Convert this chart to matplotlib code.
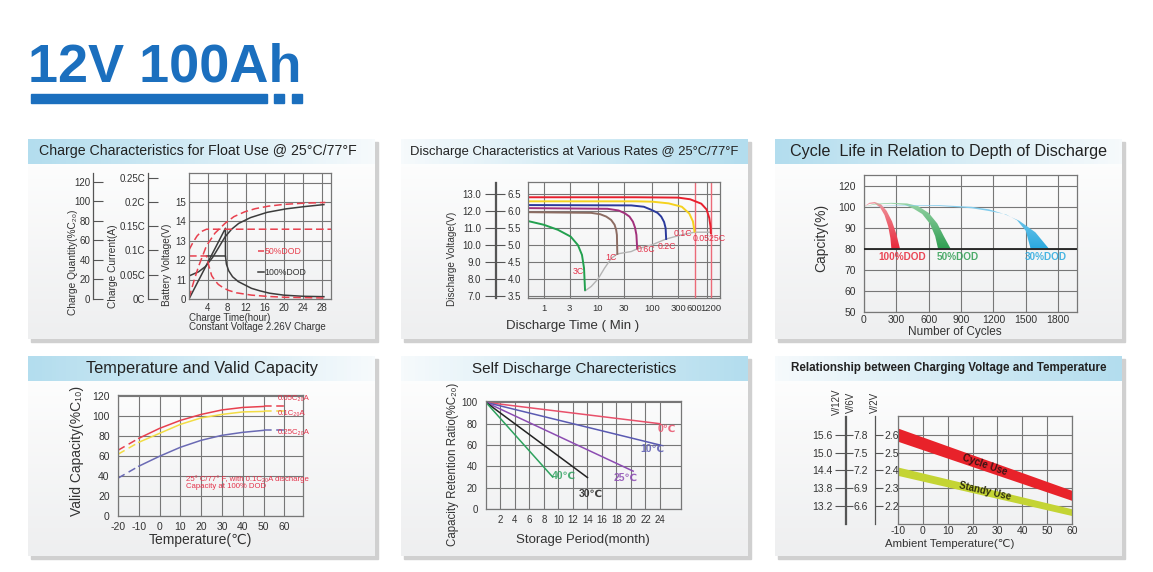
import numpy as np
import matplotlib
matplotlib.use("Agg")
import matplotlib.pyplot as plt
from matplotlib.colors import LinearSegmentedColormap
from matplotlib.patches import Rectangle

plt.rcParams['font.family'] = ['Liberation Sans', 'DejaVu Sans']
plt.rcParams['axes.linewidth'] = 0.9

W, H = 1153, 572
GRID = '#777777'
TXT = '#333333'
LRED = '#e4324a'

# ---------------- data ----------------
# 1) charge characteristics (x: hours, y: battery voltage scale)
v100_t = [0, 2, 3.5, 5, 6.5, 7.6, 9, 10.5, 13, 16.5, 20.5, 24.5, 28.5]
v100_v = [11.19, 11.4, 11.68, 12.15, 12.75, 13.2, 13.6, 13.9, 14.2, 14.47, 14.65, 14.77, 14.87]
q100_t = [0, 7.7, 7.7]
q100_v = [10, 13.65, 12.22]
i100_t = [3.7, 7.7, 7.9, 8.4, 9.2, 10.4, 12, 13.2, 15, 17, 20, 24, 28.5]
i100_v = [12.22, 12.22, 11.8, 11.45, 11.15, 10.9, 10.7, 10.55, 10.42, 10.3, 10.2, 10.14, 10.12]
v50_t = [0, 0.8, 1.7, 2.6, 3.7, 30]
v50_v = [12.53, 12.9, 13.25, 13.48, 13.6, 13.6]
i50_t = [0, 3.7, 4.2, 4.8, 5.5, 6.2, 7.3, 8.3, 10, 13.2, 16.8, 20.3, 28.4]
i50_v = [12.22, 12.22, 11.7, 11.2, 10.95, 10.75, 10.57, 10.45, 10.32, 10.2, 10.13, 10.09, 10.05]
q50_t = [0, 1, 2, 3.7, 5.5, 7.6, 9.5, 11.8, 14, 16.8, 20, 24, 28.8]
q50_v = [10.05, 10.9, 11.67, 12.75, 13.4, 13.9, 14.25, 14.5, 14.66, 14.79, 14.88, 14.94, 14.98]
qty_ticks = [0, 20, 40, 60, 80, 100, 120]
cur_ticks = [0, 0.05, 0.1, 0.15, 0.2, 0.25]
cur_labels = ['0C', '0.05C', '0.1C', '0.15C', '0.2C', '0.25C']
bv_ticks = [10, 11, 12, 13, 14, 15, 16]
bv_labels = ['0', '11', '12', '13', '14', '15', '']
ct_ticks = [4, 8, 12, 16, 20, 24, 28]

# 2) discharge at various rates (x: minutes, y: 6V scale)
dis_rates = ['0.0525C', '0.1C', '0.2C', '0.6C', '1C', '3C']
dis_colors = ['#e8202e', '#f5d21e', '#2b3a9c', '#a2317c', '#8c6c62', '#22a04e']
dis_t = [
    [0.51, 50, 300, 500, 800, 1000, 1120, 1180, 1200],
    [0.51, 50, 100, 200, 350, 480, 560, 600],
    [0.51, 41, 70, 96, 125, 146, 165, 176, 180],
    [0.51, 15, 24, 31, 38, 44, 48, 51, 52.7],
    [0.51, 7.5, 11, 14.2, 17.5, 20.2, 21.6, 22.3, 22.7],
    [0.51, 1, 1.83, 3.14, 4.27, 5.07, 5.53, 5.77],
]
dis_v = [
    [6.41, 6.41, 6.40, 6.35, 6.22, 6.05, 5.8, 5.55, 5.35],
    [6.29, 6.29, 6.28, 6.23, 6.13, 5.93, 5.7, 5.4],
    [6.18, 6.17, 6.13, 6.04, 5.95, 5.84, 5.68, 5.5, 5.18],
    [6.09, 6.07, 6.02, 5.94, 5.84, 5.69, 5.52, 5.3, 4.9],
    [5.97, 5.95, 5.91, 5.84, 5.74, 5.6, 5.45, 5.3, 4.74],
    [5.71, 5.6, 5.45, 5.25, 5.0, 4.71, 4.32, 3.68],
]
end_t = [5.77, 7.5, 10, 13.2, 17.6, 22.7, 41, 52.7, 96, 180, 343, 600, 1200]
end_v = [3.65, 3.78, 4.0, 4.32, 4.61, 4.74, 4.81, 4.89, 5.0, 5.18, 5.3, 5.38, 5.38]
rate_lbl_t = [1130, 365, 188, 77, 17.6, 4.27]
rate_lbl_v = [5.18, 5.35, 4.96, 4.88, 4.63, 4.22]
dt_ticks = [1, 3, 10, 30, 100, 300, 600, 1200]
dv6_ticks = [3.5, 4.0, 4.5, 5.0, 5.5, 6.0, 6.5]
dv12_labels = ['7.0', '8.0', '9.0', '10.0', '11.0', '12.0', '13.0']

# 3) cycle life vs depth of discharge
dod_names = ['100%DOD', '50%DOD', '30%DOD']
dod_dark = ['#e8283a', '#2f9e52', '#2aa9de']
dod_light = ['#f09aa2', '#9cd6aa', '#94d4f0']
dod_out_x = [[0, 50, 100, 160, 210, 260, 300, 334],
             [0, 100, 250, 400, 500, 600, 680, 740, 804],
             [0, 300, 700, 1000, 1160, 1300, 1440, 1590, 1716]]
dod_out_y = [[100, 101.8, 102.2, 101, 98, 93, 87, 80],
             [100, 101.3, 101.8, 101.5, 100.3, 97, 92, 86, 80],
             [100, 100.6, 100.7, 99.9, 98.7, 96.5, 93.3, 87.8, 80]]
dod_in_x = [[0, 50, 100, 150, 190, 225, 245, 254],
            [0, 100, 250, 380, 460, 540, 610, 660, 687],
            [0, 300, 700, 1000, 1150, 1314, 1420, 1500, 1546]]
dod_in_y = [[100, 101.3, 101.5, 99.5, 96, 90.5, 85, 80],
            [100, 101, 101.4, 100.8, 99, 96.5, 92, 86, 80],
            [100, 100.4, 100.3, 99.2, 98, 96.4, 93.5, 88.6, 80]]
dod_lbl_x = [356, 866, 1686]
cyc_xticks = [0, 300, 600, 900, 1200, 1500, 1800]
# the top gridline is labelled 120 on the original scale
cyc_yticks = [50, 60, 70, 80, 90, 100, 110]
cyc_ylabels = ['50', '60', '70', '80', '90', '100', '120']

# 4) temperature and valid capacity
temp_x = [-20, -10, 0, 10, 20, 30, 40, 50, 60]
cap_005 = [66, 78, 88, 96, 102, 106.5, 109, 110, 110]
cap_01 = [62, 74, 83, 92, 98.5, 102, 104.5, 105, 105]
cap_025 = [38, 50, 60, 69, 76, 81, 84, 86, 86]
cap_names = ['0.05C₂₀A', '0.1C₂₀A', '0.25C₂₀A']
cap_lbl_y = [117.8, 102.7, 83.6]
cap_colors = ['#e8404e', '#f2dc44', '#6a6ab4']
tmp_xticks = [-20, -10, 0, 10, 20, 30, 40, 50, 60]
tmp_xlabels = ['-20', '-10', '0', '10', '20', '30', '40', '50', '60']
cap_yticks = [0, 20, 40, 60, 80, 100, 120]

# 5) self discharge
sd_names = ['0℃', '10℃', '25℃', '30℃', '40℃']
sd_colors = ['#e8506a', '#5a5ab2', '#8c4cb2', '#222222', '#2ea25e']
sd_end_m = [24, 24, 20.3, 14, 9.2]
sd_end_v = [80, 60, 35.5, 29.5, 30]
sd_lbl_m = [24.9, 23, 19.3, 14.5, 10.8]
sd_lbl_v = [75.6, 56.6, 29.6, 14.6, 31.2]
sd_xticks = [2, 4, 6, 8, 10, 12, 14, 16, 18, 20, 22, 24]
sd_yticks = [0, 20, 40, 60, 80, 100]

# 6) charging voltage vs temperature (V per cell)
amb_x = [-10, 60]
cyc_hi = [2.637, 2.288]
cyc_lo = [2.563, 2.232]
sby_hi = [2.419, 2.185]
sby_lo = [2.372, 2.147]
amb_ticks = [-10, 0, 10, 20, 30, 40, 50, 60]
amb_labels = ['-10', '0', '10', '20', '30', '40', '50', '60']
v2_ticks = [2.2, 2.3, 2.4, 2.5, 2.6]
v2_labels = ['2.2', '2.3', '2.4', '2.5', '2.6']
v6_labels = ['6.6', '6.9', '7.2', '7.5', '7.8']
v12_labels = ['13.2', '13.8', '14.4', '15.0', '15.6']

# ---------------- figure ----------------
fig = plt.figure(figsize=(W / 100, H / 100), dpi=100)


def px(x0, y0, x1, y1):
    return [x0 / W, 1 - y1 / H, (x1 - x0) / W, (y1 - y0) / H]


bg = fig.add_axes([0, 0, 1, 1])
bg.axis('off')

bg.text(28, 82, '12V 100Ah', fontsize=39, fontweight='bold', color='#1b6fbe',
        ha='left', va='baseline')
bg.add_patch(Rectangle((31, 94), 236, 8.5, color='#1b6fbe'))
bg.add_patch(Rectangle((274, 94), 9.5, 8.5, color='#1b6fbe'))
bg.add_patch(Rectangle((292, 94), 9.5, 8.5, color='#1b6fbe'))

hdr_cm = LinearSegmentedColormap.from_list('hdr', ['#b3ddee', '#f6fafc'])
body_cm = LinearSegmentedColormap.from_list('body', ['#ffffff', '#eeeff0'])


def panel(x0, y0, x1, y1, title, blue_left, fs, dx=0, **kw):
    bg.add_patch(Rectangle((x0 + 3, y0 + 3), x1 - x0, y1 - y0, color='#d0d0d0', zorder=1))
    bg.imshow(np.linspace(0, 1, 50).reshape(-1, 1), extent=[x0, x1, y1, y0],
              cmap=body_cm, aspect='auto', zorder=2)
    g = np.linspace(0, 1, 100).reshape(1, -1)
    if not blue_left:
        g = g[:, ::-1]
    bg.imshow(g, extent=[x0, x1, y0 + 25, y0], cmap=hdr_cm, aspect='auto', zorder=3)
    bg.text((x0 + x1) / 2 + dx, y0 + 12.5, title, fontsize=fs, ha='center', va='center',
            color='#222222', zorder=4, **kw)


panel(28, 139, 375, 339, 'Charge Characteristics for Float Use @ 25°C/77°F', True, 10.2, dx=-4)
panel(401, 139, 748, 339, 'Discharge Characteristics at Various Rates @ 25°C/77°F', False, 9.4)
panel(775, 139, 1122, 339, 'Cycle  Life in Relation to Depth of Discharge', True, 11.6)
panel(28, 356, 375, 556, 'Temperature and Valid Capacity', True, 11.8)
panel(401, 356, 748, 556, 'Self Discharge Charecteristics', False, 11)
panel(775, 356, 1122, 556, 'Relationship between Charging Voltage and Temperature', False, 8.4,
      fontweight='bold')
bg.set_xlim(0, W)
bg.set_ylim(H, 0)


def style(ax, fs=7):
    ax.set_facecolor('none')
    ax.grid(True, color=GRID, lw=0.8)
    ax.set_axisbelow(True)
    for s in ax.spines.values():
        s.set_color(GRID)
    ax.tick_params(length=0, labelsize=fs, colors=TXT, pad=2)


def scale(rect, ylim, ticks, labels, side='left', direction='in', length=5, pad=2, fs=7):
    a = fig.add_axes(px(*rect))
    a.set_facecolor('none')
    a.set_xticks([])
    for k, s in a.spines.items():
        s.set_visible(k == side)
        s.set_color('#555555')
    if side == 'right':
        a.yaxis.tick_right()
    a.set_ylim(*ylim)
    a.set_yticks(ticks)
    a.set_yticklabels(labels)
    a.tick_params(axis='y', direction=direction, length=length, pad=pad, labelsize=fs,
                  colors='#555555', labelcolor=TXT)
    return a


# ---- panel 1 ----
a1 = fig.add_axes(px(189, 173, 331, 299))
style(a1)
a1.set_xlim(0, 30)
a1.set_ylim(10, 16.5)
a1.set_xticks(ct_ticks)
a1.set_yticks(bv_ticks)
a1.set_yticklabels(bv_labels)
a1.tick_params(axis='x', pad=3)
blk = dict(color='#3c3c3c', lw=1.1)
rd = dict(color='#e8404e', lw=1.1, ls=(0, (5, 2.5)))
a1.plot(v100_t, v100_v, **blk)
a1.plot(q100_t, q100_v, **blk)
a1.plot(i100_t, i100_v, **blk)
a1.plot(v50_t, v50_v, **rd)
a1.plot(i50_t, i50_v, **rd)
a1.plot(q50_t, q50_v, **rd)
a1.plot([14.6, 15.9], [12.47, 12.47], **rd)
a1.text(16.0, 12.47, '50%DOD', color='#e8404e', fontsize=6.3, va='center')
a1.plot([14.6, 15.9], [11.39, 11.39], **blk)
a1.text(16.0, 11.39, '100%DOD', color='#333333', fontsize=6.3, va='center')
scale((93, 173, 93.5, 299), (0, 129.2), qty_ticks, [str(v) for v in qty_ticks], length=7)
scale((148, 173, 148.5, 299), (0, 0.2597), cur_ticks, cur_labels, length=7)
bg.text(73, 262, 'Charge Quantity(%C₂₀)', rotation=90, fontsize=7.3, ha='center', va='center', color=TXT)
bg.text(113, 266, 'Charge Current(A)', rotation=90, fontsize=7.3, ha='center', va='center', color=TXT)
bg.text(167, 265, 'Battery Voltage(V)', rotation=90, fontsize=7.3, ha='center', va='center', color=TXT)
bg.text(189, 318, 'Charge Time(hour)', fontsize=7, va='center', color=TXT)
bg.text(189, 327.5, 'Constant Voltage 2.26V Charge', fontsize=7, va='center', color=TXT)

# ---- panel 2 ----
a2 = fig.add_axes(px(528, 182, 720, 298))
style(a2, 6.8)
a2.set_xscale('log')
a2.set_xlim(0.514, 1766)
a2.set_ylim(3.44, 6.86)
a2.grid(False)
a2.set_xticks(dt_ticks)
a2.set_xticklabels([str(v) for v in dt_ticks])
a2.minorticks_off()
a2.set_yticks(dv6_ticks)
a2.tick_params(axis='y', labelleft=False)
a2.tick_params(axis='x', pad=4)
for yv in dv6_ticks:
    a2.axhline(yv, color=GRID, lw=0.8, zorder=0)
for xv in [1, 3, 10, 30, 100, 300, 1000]:
    a2.axvline(xv, color=GRID, lw=0.8, zorder=0)
for xv in [600, 1200]:
    a2.axvline(xv, color='#ec6a78', lw=1.0, zorder=0)
a2.plot(end_t, end_v, color='#b4b4b4', lw=1.0)
for t, v, c in zip(dis_t, dis_v, dis_colors):
    a2.plot(t, v, color=c, lw=1.4)
for name, t, v in zip(dis_rates, rate_lbl_t, rate_lbl_v):
    a2.text(t, v, name, color=LRED, fontsize=6.3, ha='center', va='center')
scale((495, 182, 495.5, 298), (3.44, 6.86), dv6_ticks, dv12_labels, direction='inout', length=14, pad=3)
scale((495, 182, 495.5, 298), (3.44, 6.86), dv6_ticks, [f'{v:.1f}' for v in dv6_ticks],
      side='right', length=0, pad=9)
bg.text(452, 259, 'Discharge Voltage(V)', rotation=90, fontsize=7.2, ha='center', va='center', color=TXT)
bg.text(573, 326, 'Discharge Time ( Min )', fontsize=9.5, ha='center', va='center', color=TXT)

# ---- panel 3 ----
a3 = fig.add_axes(px(864, 175, 1077, 312))
style(a3, 7.5)
a3.set_xticks(cyc_xticks)
a3.set_yticks(cyc_yticks)
a3.set_yticklabels(cyc_ylabels)
a3.tick_params(axis='y', pad=6)
a3.tick_params(axis='x', pad=2)
grad = np.linspace(0, 1, 100).reshape(-1, 1)
for i in range(3):
    xs = dod_out_x[i] + dod_in_x[i][::-1]
    ys = dod_out_y[i] + dod_in_y[i][::-1]
    poly = a3.fill(xs, ys, facecolor='none', edgecolor='none')[0]
    cm = LinearSegmentedColormap.from_list('b%d' % i, [dod_dark[i], dod_light[i]])
    im = a3.imshow(grad, extent=[0, max(dod_out_x[i]), 80, 103], origin='lower',
                   cmap=cm, aspect='auto', zorder=2)
    im.set_clip_path(poly)
    a3.text(dod_lbl_x[i], 76.1, dod_names[i], color=dod_dark[i], fontsize=7.2,
            ha='center', va='center', fontweight='bold', alpha=0.85)
a3.axhline(80, color='#222222', lw=1.3, zorder=3)
a3.set_xlim(0, 1976)
a3.set_ylim(50, 115)
bg.text(821, 238, 'Capcity(%)', rotation=90, fontsize=10, ha='center', va='center', color=TXT)
bg.text(955, 332, 'Number of Cycles', fontsize=8.5, ha='center', va='center', color=TXT)

# ---- panel 4 ----
a4 = fig.add_axes(px(118, 395, 303, 516))
style(a4, 7.5)
a4.set_xlim(-20, 69)
a4.set_ylim(0, 121.5)
a4.set_xticks(tmp_xticks)
a4.set_xticklabels(tmp_xlabels)
a4.set_yticks(cap_yticks)
a4.tick_params(axis='y', pad=6)
a4.tick_params(axis='x', pad=4)
for vals, c, name, ly in zip([cap_005, cap_01, cap_025], cap_colors, cap_names, cap_lbl_y):
    a4.plot(temp_x[:2], vals[:2], color=c, lw=1.1, ls=(0, (5, 3)))
    a4.plot(temp_x[1:8], vals[1:8], color=c, lw=1.1)
    a4.plot(temp_x[7:], vals[7:], color=c, lw=1.1, ls=(0, (5, 3)))
    a4.text(57, ly, name, color=LRED, fontsize=5.6, ha='left', va='center')
a4.text(12.5, 33.4, '25° C/77° F, with 0.1C₂₀A discharge\nCapacity at 100% DOD', color=LRED,
        fontsize=5.6, ha='left', va='center', linespacing=1.1)
bg.text(77, 451, 'Valid Capacity(%C₁₀)', rotation=90, fontsize=10, ha='center', va='center', color=TXT)
bg.text(200, 540, 'Temperature(℃)', fontsize=10, ha='center', va='center', color=TXT)

# ---- panel 5 ----
a5 = fig.add_axes(px(486, 401, 681, 509))
style(a5, 7)
a5.set_xlim(0, 26.9)
a5.set_ylim(0, 101.3)
a5.set_xticks(sd_xticks)
a5.set_yticks(sd_yticks)
a5.tick_params(axis='y', pad=6)
a5.tick_params(axis='x', pad=4)
for name, c, m, v, lm, lv in zip(sd_names, sd_colors, sd_end_m, sd_end_v, sd_lbl_m, sd_lbl_v):
    a5.plot([0, m], [100, v], color=c, lw=1.1)
    a5.text(lm, lv, name, color=c, fontsize=7.5, ha='center', va='center', fontweight='bold', alpha=0.85)
bg.text(453, 464, 'Capacity Retention Ratio(%C₂₀)', rotation=90, fontsize=8.3, ha='center', va='center', color=TXT)
bg.text(583, 540, 'Storage Period(month)', fontsize=9.5, ha='center', va='center', color=TXT)

# ---- panel 6 ----
a6 = fig.add_axes(px(898, 416, 1072, 524))
style(a6, 7.5)
a6.set_xlim(-10, 60)
a6.set_ylim(2.10, 2.705)
a6.set_xticks(amb_ticks)
a6.set_xticklabels(amb_labels)
a6.set_yticks(v2_ticks)
a6.tick_params(axis='y', labelleft=False)
a6.tick_params(axis='x', pad=1.5)
a6.fill_between(amb_x, cyc_lo, cyc_hi, color='#e8222a', lw=0, zorder=2)
a6.fill_between(amb_x, sby_lo, sby_hi, color='#c4d434', lw=0, zorder=2)
a6.text(25, 2.43, 'Cycle Use', rotation=-19, fontsize=7, ha='center', va='center',
        color='#3a1414', fontweight='bold')
a6.text(25, 2.283, 'Standy Use', rotation=-13, fontsize=7, ha='center', va='center',
        color='#2e2e10', fontweight='bold')
y12 = (2.10 * 6, 2.705 * 6)
y6 = (2.10 * 3, 2.705 * 3)
scale((845, 416, 845.5, 524), y12, [v * 6 for v in v2_ticks], v12_labels,
      direction='out', length=7, pad=2, fs=7.5)
scale((845, 416, 845.5, 524), y6, [v * 3 for v in v2_ticks], v6_labels,
      side='right', direction='out', length=5, pad=1, fs=7.5)
scale((874, 416, 874.5, 524), (2.10, 2.705), v2_ticks, v2_labels,
      side='right', direction='out', length=6, pad=1, fs=7.5)
for x, s in [(837, 'V/12V'), (851, 'V/6V'), (875, 'V/2V')]:
    bg.text(x, 402, s, rotation=90, fontsize=7, ha='center', va='center', color=TXT)
bg.text(950, 544, 'Ambient Temperature(℃)', fontsize=8.2, ha='center', va='center', color=TXT)

fig.savefig('out.png', dpi=100)
